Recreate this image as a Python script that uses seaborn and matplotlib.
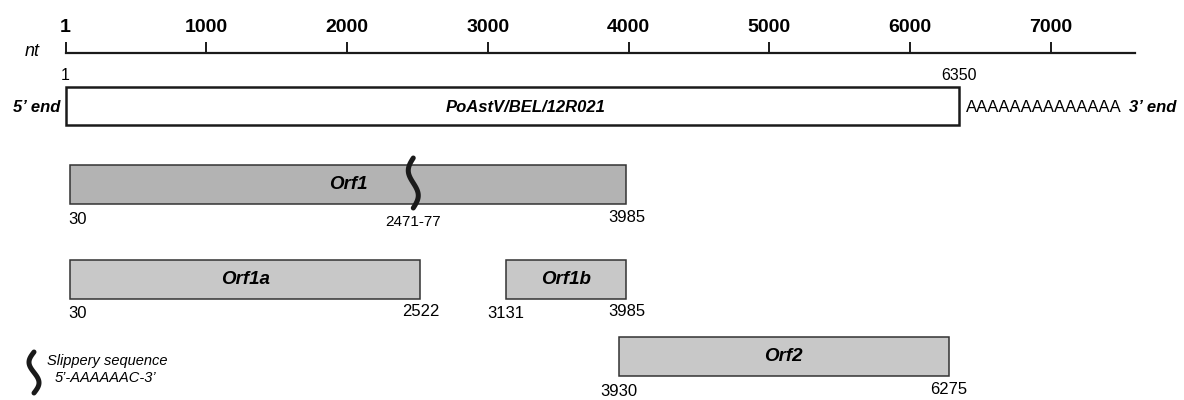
import numpy as np
import matplotlib
matplotlib.use("Agg")
import matplotlib.pyplot as plt
import seaborn as sns
from matplotlib.patches import Rectangle

# genome ruler
ruler_ticks = [1, 1000, 2000, 3000, 4000, 5000, 6000, 7000]
ruler_end = 7600

# genome
genome_name = "PoAstV/BEL/12R021"
genome_start = 1
genome_end = 6350
polya = "AAAAAAAAAAAAAA"

# open reading frames
orf_names = ["Orf1", "Orf1a", "Orf1b", "Orf2"]
orf_start = [30, 30, 3131, 3930]
orf_end = [3985, 2522, 3985, 6275]
orf_row = [0, 1, 1, 2]
orf_dark = [True, False, False, False]

# slippery sequence
slip_pos = 2471
slip_label = "2471-77"

sns.set_theme(style="white")
plt.rcParams["font.family"] = ["Liberation Sans", "DejaVu Sans"]
plt.rcParams["text.color"] = "black"
plt.rcParams["xtick.color"] = "black"

fig = plt.figure(figsize=(11.84, 4.0), dpi=100)
ax = fig.add_axes([0, 0, 1, 1])

# x in nt, y in pixels from top
PX_PER_NT = 0.1408
X0_PX = 65.5
ax.set_xlim(1 - X0_PX / PX_PER_NT, 1 + (1184 - X0_PX) / PX_PER_NT)
ax.set_ylim(400, 0)
ax.axis("off")


def nt(px):
    return 1 + (px - X0_PX) / PX_PER_NT


dark = "#1a1a1a"

# ruler as a real axis (top spine)
rl = X0_PX / 1184
rr = (X0_PX + (ruler_end - 1) * PX_PER_NT) / 1184
rax = fig.add_axes([rl, 1 - 53 / 400 - 0.01, rr - rl, 0.01])
rax.set_xlim(1, ruler_end)
rax.set_yticks([])
rax.set_facecolor("none")
for s in ["left", "right", "bottom"]:
    rax.spines[s].set_visible(False)
rax.spines["top"].set_linewidth(1.6)
rax.spines["top"].set_color(dark)
rax.xaxis.tick_top()
rax.set_xticks(ruler_ticks)
rax.set_xticklabels([str(t) for t in ruler_ticks], fontsize=14, fontweight="bold")
rax.tick_params(axis="x", direction="out", length=8, width=1.4, color=dark,
                pad=4.5, top=True, bottom=False, labelcolor="black")

ax.text(nt(32), 51, "nt", fontsize=13, style="italic", ha="center", va="center")

# genome box
g_top, g_bot = 87, 125
ax.add_patch(Rectangle((genome_start, g_top), genome_end - genome_start, g_bot - g_top,
                       facecolor="white", edgecolor=dark, linewidth=1.8, zorder=2))
gy = (g_top + g_bot) / 2 + 1
ax.text(genome_start, 76, str(genome_start), fontsize=11.5, ha="center", va="center")
ax.text(genome_end, 76, str(genome_end), fontsize=11.5, ha="center", va="center")
ax.text((genome_start + genome_end) / 2 + 90, gy, genome_name, fontsize=12,
        fontweight="bold", style="italic", ha="center", va="center")
ax.text(nt(60), gy, "5’ end", fontsize=12, fontweight="bold", style="italic",
        ha="right", va="center")
ax.text(genome_end + 45, gy, polya, fontsize=12, ha="left", va="center")
ax.text(nt(1129), gy, "3’ end", fontsize=12, fontweight="bold", style="italic",
        ha="left", va="center")

# ORF boxes
row_top = [165, 260, 337]
row_h = 39
for name, s, e, r, d in zip(orf_names, orf_start, orf_end, orf_row, orf_dark):
    top = row_top[r]
    ax.add_patch(Rectangle((s, top), e - s, row_h,
                           facecolor="#b3b3b3" if d else "#c8c8c8",
                           edgecolor="#333333", linewidth=1.1, zorder=2))
    ax.text((s + e) / 2, top + row_h / 2, name, fontsize=13.5, fontweight="bold",
            style="italic", ha="center", va="center", zorder=3)
    ax.text(s + (60 if s < 100 else 0), top + row_h + 15, str(s), fontsize=12,
            ha="center", va="center")
    ax.text(e, top + row_h + 13, str(e), fontsize=12, ha="center", va="center")


def squiggle(xc_px, y0, y1, amp=5):
    # integral-sign shaped mark for the slippery sequence
    t = np.linspace(0, 1, 60)
    xs = xc_px - amp * np.sin(2 * np.pi * t)
    ys = y0 + (y1 - y0) * t
    ax.plot(nt(xs), ys, color=dark, linewidth=3.6, solid_capstyle="round", zorder=4)


slip_px = X0_PX + (slip_pos - 1) * PX_PER_NT
squiggle(slip_px, 158, 208)
ax.text(slip_pos, 222, slip_label, fontsize=11, ha="center", va="center")

# legend for slippery sequence
squiggle(34, 352, 393)
ax.text(nt(47), 361, "Slippery sequence", fontsize=10.5, style="italic", ha="left", va="center")
ax.text(nt(55), 378, "5’-AAAAAAC-3’", fontsize=10.5, style="italic", ha="left", va="center")

fig.savefig("out.png", dpi=100)
